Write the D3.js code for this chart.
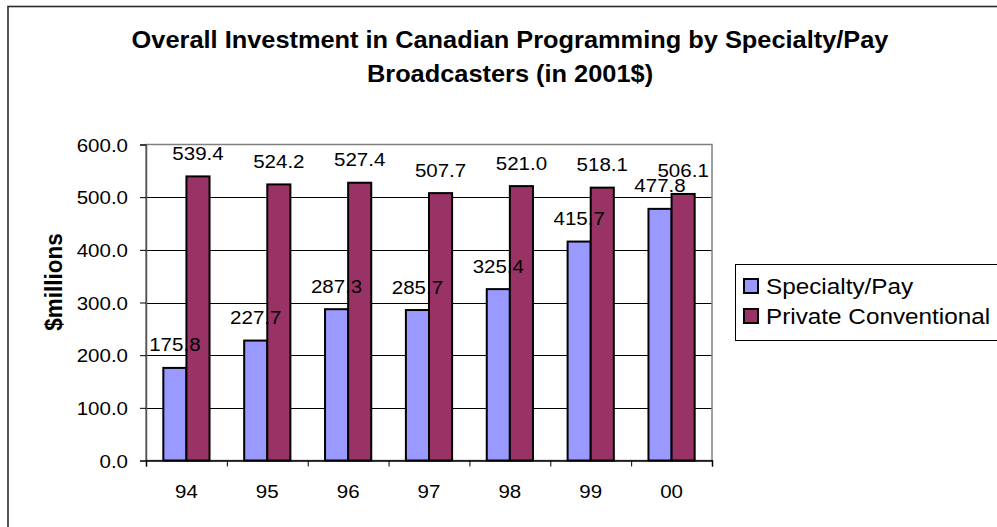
<!DOCTYPE html>
<html>
<head>
<meta charset="utf-8">
<script src="https://cdn.jsdelivr.net/npm/d3@7"></script>
<style>
  html, body { margin: 0; padding: 0; background: #fff; }
  svg { display: block; }
  text { font-family: "Liberation Sans", Arial, sans-serif; fill: #000; }
</style>
</head>
<body>
<svg id="chart" width="997" height="527"></svg>
<script>
// Investment in Canadian programming, $ millions (2001 dollars)
const years = ["94", "95", "96", "97", "98", "99", "00"];
const specialtyPay = [175.8, 227.7, 287.3, 285.7, 325.4, 415.7, 477.8];
const privateConventional = [539.4, 524.2, 527.4, 507.7, 521.0, 518.1, 506.1];
const seriesNames = ["Specialty/Pay", "Private Conventional"];
const seriesColors = ["#9999FF", "#993366"];
const yTicks = [0, 100, 200, 300, 400, 500, 600];
const titleLines = ["Overall Investment in Canadian Programming by Specialty/Pay", "Broadcasters (in 2001$)"];
const yTitle = "$millions";

const svg = d3.select("#chart");
const sx = 1.08; // slight horizontal widening of the lettering

// place a text element inside a widened group
function label(parent, x, y, str, opts = {}) {
  const g = parent.append("g")
    .attr("transform", `translate(${x},${y}) scale(${sx},1)` + (opts.rotate ? ` rotate(${opts.rotate})` : ""));
  const t = g.append("text")
    .attr("text-anchor", opts.anchor || "middle")
    .attr("font-size", opts.size || 19)
    .attr("font-weight", opts.bold ? "bold" : "normal")
    .text(str);
  if (opts.dy) t.attr("dy", opts.dy);
  return t;
}

// chart frame
svg.append("rect")
  .attr("x", 8).attr("y", 6.5).attr("width", 1010).attr("height", 540)
  .attr("fill", "#fff").attr("stroke", "#2a2a2a").attr("stroke-width", 1.6);

// title
label(svg, 510, 48, titleLines[0], { size: 23.5, bold: true });
label(svg, 510, 82, titleLines[1], { size: 23.5, bold: true });

const plot = { left: 146, right: 712, top: 144.5, bottom: 460.5 };

const y = d3.scaleLinear().domain([0, 600]).range([plot.bottom, plot.top]);
const x = d3.scaleBand().domain(years).range([plot.left, plot.right]).paddingInner(0).paddingOuter(0);
const barW = x.bandwidth() / 3.5;
const groupOffset = (x.bandwidth() - 2 * barW) / 2;

// gridlines
svg.append("g")
  .selectAll("line")
  .data(yTicks.filter(v => v > 0 && v < 600))
  .join("line")
  .attr("x1", plot.left).attr("x2", plot.right)
  .attr("y1", d => Math.round(y(d)) + 0.5).attr("y2", d => Math.round(y(d)) + 0.5)
  .attr("stroke", "#000").attr("stroke-width", 1);

// plot area border
svg.append("rect")
  .attr("x", plot.left).attr("y", plot.top)
  .attr("width", plot.right - plot.left).attr("height", plot.bottom - plot.top)
  .attr("fill", "none").attr("stroke", "#808080").attr("stroke-width", 1.5);

// bars
const series = [specialtyPay, privateConventional];
series.forEach((vals, si) => {
  const g = svg.append("g");
  g.selectAll("rect")
    .data(vals)
    .join("rect")
    .attr("x", (d, i) => x(years[i]) + groupOffset + si * barW)
    .attr("y", d => y(d))
    .attr("width", barW)
    .attr("height", d => y(0) - y(d))
    .attr("fill", seriesColors[si])
    .attr("stroke", "#000")
    .attr("stroke-width", 2);
});

// value labels (drawn above bars so they overlap neighbours as in the report)
series.forEach((vals, si) => {
  vals.forEach((v, i) => {
    const cx = x(years[i]) + groupOffset + si * barW + barW / 2;
    label(svg, cx, y(v) - 16.5, v.toFixed(1), { size: 19 });
  });
});

// y axis
const yAxis = svg.append("g")
  .attr("transform", `translate(${plot.left},0)`)
  .call(d3.axisLeft(y).tickValues(yTicks).tickSize(6).tickPadding(12).tickFormat(d3.format(".1f")));
yAxis.select(".domain").attr("stroke", "#555").attr("stroke-width", 1.5);
yAxis.selectAll(".tick line").attr("stroke", "#000");
yAxis.selectAll(".tick text").each(function (d) {
  const t = d3.select(this);
  const parent = d3.select(this.parentNode);
  t.remove();
  label(parent, -18, 0, d3.format(".1f")(d), { size: 19, anchor: "end", dy: "0.35em" });
});

// x axis: boundary ticks
const xb = d3.scaleLinear().domain([0, years.length]).range([plot.left, plot.right]);
const xTickAxis = svg.append("g")
  .attr("transform", `translate(0,${plot.bottom})`)
  .call(d3.axisBottom(xb).tickValues(d3.range(years.length + 1)).tickSize(6).tickFormat(""));
xTickAxis.select(".domain").attr("stroke", "#000").attr("stroke-width", 1.5);
xTickAxis.selectAll(".tick line").attr("stroke", "#000");

// x axis: category labels
const xLab = svg.append("g")
  .attr("transform", `translate(0,${plot.bottom})`)
  .call(d3.axisBottom(x).tickSize(0).tickPadding(24));
xLab.select(".domain").remove();
xLab.selectAll(".tick text").each(function (d) {
  const parent = d3.select(this.parentNode);
  d3.select(this).remove();
  label(parent, 0, 37.5, d, { size: 19 });
});

// y axis title
label(svg, 62, 282, yTitle, { size: 22.5, bold: true, rotate: -90 });

// legend
const legend = svg.append("g");
legend.append("rect")
  .attr("x", 735.5).attr("y", 264.5).attr("width", 300).attr("height", 76)
  .attr("fill", "#fff").attr("stroke", "#000").attr("stroke-width", 1);
seriesNames.forEach((name, i) => {
  const cy = 286 + i * 30;
  legend.append("rect")
    .attr("x", 744).attr("y", cy - 7).attr("width", 14).attr("height", 14)
    .attr("fill", seriesColors[i]).attr("stroke", "#000").attr("stroke-width", 2);
  label(legend, 766, cy + 8, name, { size: 22.5, anchor: "start" });
});
</script>
</body>
</html>
